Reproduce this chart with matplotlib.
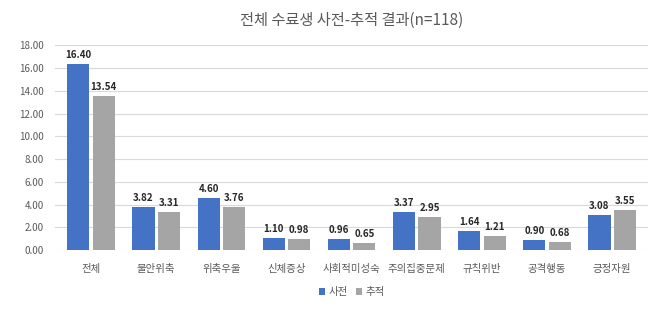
import numpy as np
import matplotlib.pyplot as plt

plt.rcParams['font.family'] = ['Noto Sans CJK KR', 'DejaVu Sans']

categories = ['전체', '불안위축', '위축우울', '신체증상', '사회적미성숙',
              '주의집중문제', '규칙위반', '공격행동', '긍정자원']
pre = [16.40, 3.82, 4.60, 1.10, 0.96, 3.37, 1.64, 0.90, 3.08]
follow = [13.54, 3.31, 3.76, 0.98, 0.65, 2.95, 1.21, 0.68, 3.55]
yticks = np.arange(0, 18.01, 2)

fig, ax = plt.subplots(figsize=(6.5, 3.29), dpi=100)
fig.subplots_adjust(left=0.085, right=0.997, top=0.862, bottom=0.24)

x = np.arange(len(categories))
w = 0.34
gap = 0.025
b1 = ax.bar(x - w / 2 - gap, pre, w, color='#4472C4', label='사전', zorder=3)
b2 = ax.bar(x + w / 2 + gap, follow, w, color='#A5A5A5', label='추적', zorder=3)

# value labels above each bar
for bars in (b1, b2):
    for r in bars:
        ax.text(r.get_x() + r.get_width() / 2, r.get_height() + 0.35,
                '%.2f' % r.get_height(), ha='center', va='bottom',
                fontsize=7, fontweight='bold', color='#262626')

ax.set_ylim(0, 18)
ax.set_xlim(-0.55, len(categories) - 0.45)
ax.set_yticks(yticks)
ax.set_yticklabels(['%.2f' % v for v in yticks], fontsize=7, color='#595959')
ax.set_xticks(x)
ax.set_xticklabels(categories, fontsize=7.5, color='#595959')
ax.tick_params(length=0, pad=8)
ax.tick_params(axis='x', pad=10)
ax.grid(axis='y', color='#D9D9D9', linewidth=0.8, zorder=0)
for s in ax.spines.values():
    s.set_visible(False)

ax.set_title('전체 수료생 사전-추적 결과(n=118)', fontsize=11, color='#595959', pad=15)
ax.legend(loc='upper center', bbox_to_anchor=(0.5, -0.135), ncol=2, frameon=False,
          fontsize=7.5, handlelength=0.6, handleheight=0.6, handletextpad=0.3,
          columnspacing=0.8, labelcolor='#595959')

fig.savefig('out.png')
